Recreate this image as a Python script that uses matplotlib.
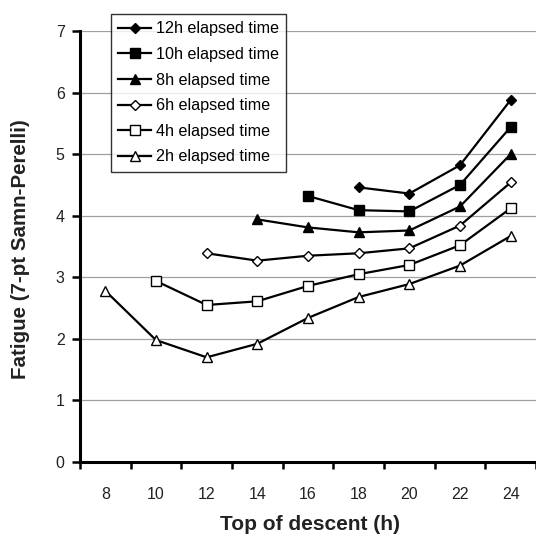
import numpy as np
import matplotlib
matplotlib.use("Agg")
import matplotlib.pyplot as plt

plt.rcParams["font.family"] = ["Liberation Sans", "DejaVu Sans"]

# top of descent categories (h)
tod = [8, 10, 12, 14, 16, 18, 20, 22, 24]

# fatigue per elapsed-time series; None = no data at that TOD
fat_12h = [None, None, None, None, None, 4.46, 4.36, 4.82, 5.88]
fat_10h = [None, None, None, None, 4.32, 4.09, 4.07, 4.50, 5.44]
fat_8h = [None, None, None, 3.94, 3.81, 3.73, 3.76, 4.15, 5.00]
fat_6h = [None, None, 3.39, 3.27, 3.35, 3.39, 3.47, 3.84, 4.54]
fat_4h = [None, 2.94, 2.55, 2.61, 2.86, 3.05, 3.20, 3.52, 4.12]
fat_2h = [2.78, 1.98, 1.70, 1.92, 2.34, 2.68, 2.89, 3.19, 3.67]

series = [
    ("12h elapsed time", fat_12h, "D", "black"),
    ("10h elapsed time", fat_10h, "s", "black"),
    ("8h elapsed time", fat_8h, "^", "black"),
    ("6h elapsed time", fat_6h, "D", "white"),
    ("4h elapsed time", fat_4h, "s", "white"),
    ("2h elapsed time", fat_2h, "^", "white"),
]

fig = plt.figure(figsize=(5.36, 5.35), dpi=100)
ax = fig.add_axes([80 / 536, 1 - 462 / 535, 456 / 536, 431 / 535])

x = np.arange(len(tod))
for label, vals, marker, face in series:
    y = np.array([np.nan if v is None else v for v in vals], dtype=float)
    ms = 5.0 if marker == "D" else 6.5
    ax.plot(x, y, color="black", lw=1.6, marker=marker, ms=ms,
            mfc=face, mec="black", mew=1.0, label=label)

ax.set_xlim(-0.5, len(tod) - 0.5)
ax.set_ylim(0, 7)
ax.set_yticks(range(0, 8))
ax.yaxis.grid(True, color="#a0a0a0", lw=0.9)
ax.set_axisbelow(True)

# excel style category axis: ticks between categories, labels centred
ax.set_xticks(np.arange(-0.5, len(tod), 1.0))
ax.set_xticklabels([])
ax.set_xticks(x, minor=True)
ax.set_xticklabels([str(t) for t in tod], minor=True)
ax.tick_params(axis="x", which="major", length=5, width=1.8, direction="out")
ax.tick_params(axis="x", which="minor", length=0, pad=18, labelsize=11.5,
               labelcolor="#222222")
ax.tick_params(axis="y", length=6, width=1.8, direction="out", pad=5,
               labelsize=11.5, labelcolor="#222222")

for side in ["top", "right"]:
    ax.spines[side].set_visible(False)
ax.spines["left"].set_linewidth(2.2)
ax.spines["bottom"].set_linewidth(2.2)

ax.set_xlabel("Top of descent (h)", fontsize=15, fontweight="bold",
              color="#222222", va="center")
ax.xaxis.set_label_coords((310 - 80) / 456, (462 - 524) / 431)
ax.set_ylabel("Fatigue (7-pt Samn-Perelli)", fontsize=14.8, fontweight="bold",
              color="#222222", va="center")
ax.yaxis.set_label_coords((21 - 80) / 456, (462 - 249) / 431)

leg = ax.legend(loc="upper left", bbox_to_anchor=(111 / 536, 521 / 535),
                bbox_transform=fig.transFigure, fontsize=11.6, frameon=True,
                fancybox=False, edgecolor="black", handlelength=2.05,
                labelspacing=0.66, borderpad=0.45, handletextpad=0.3,
                borderaxespad=0)
leg.get_frame().set_linewidth(1.0)

fig.savefig("out.png", dpi=100)
